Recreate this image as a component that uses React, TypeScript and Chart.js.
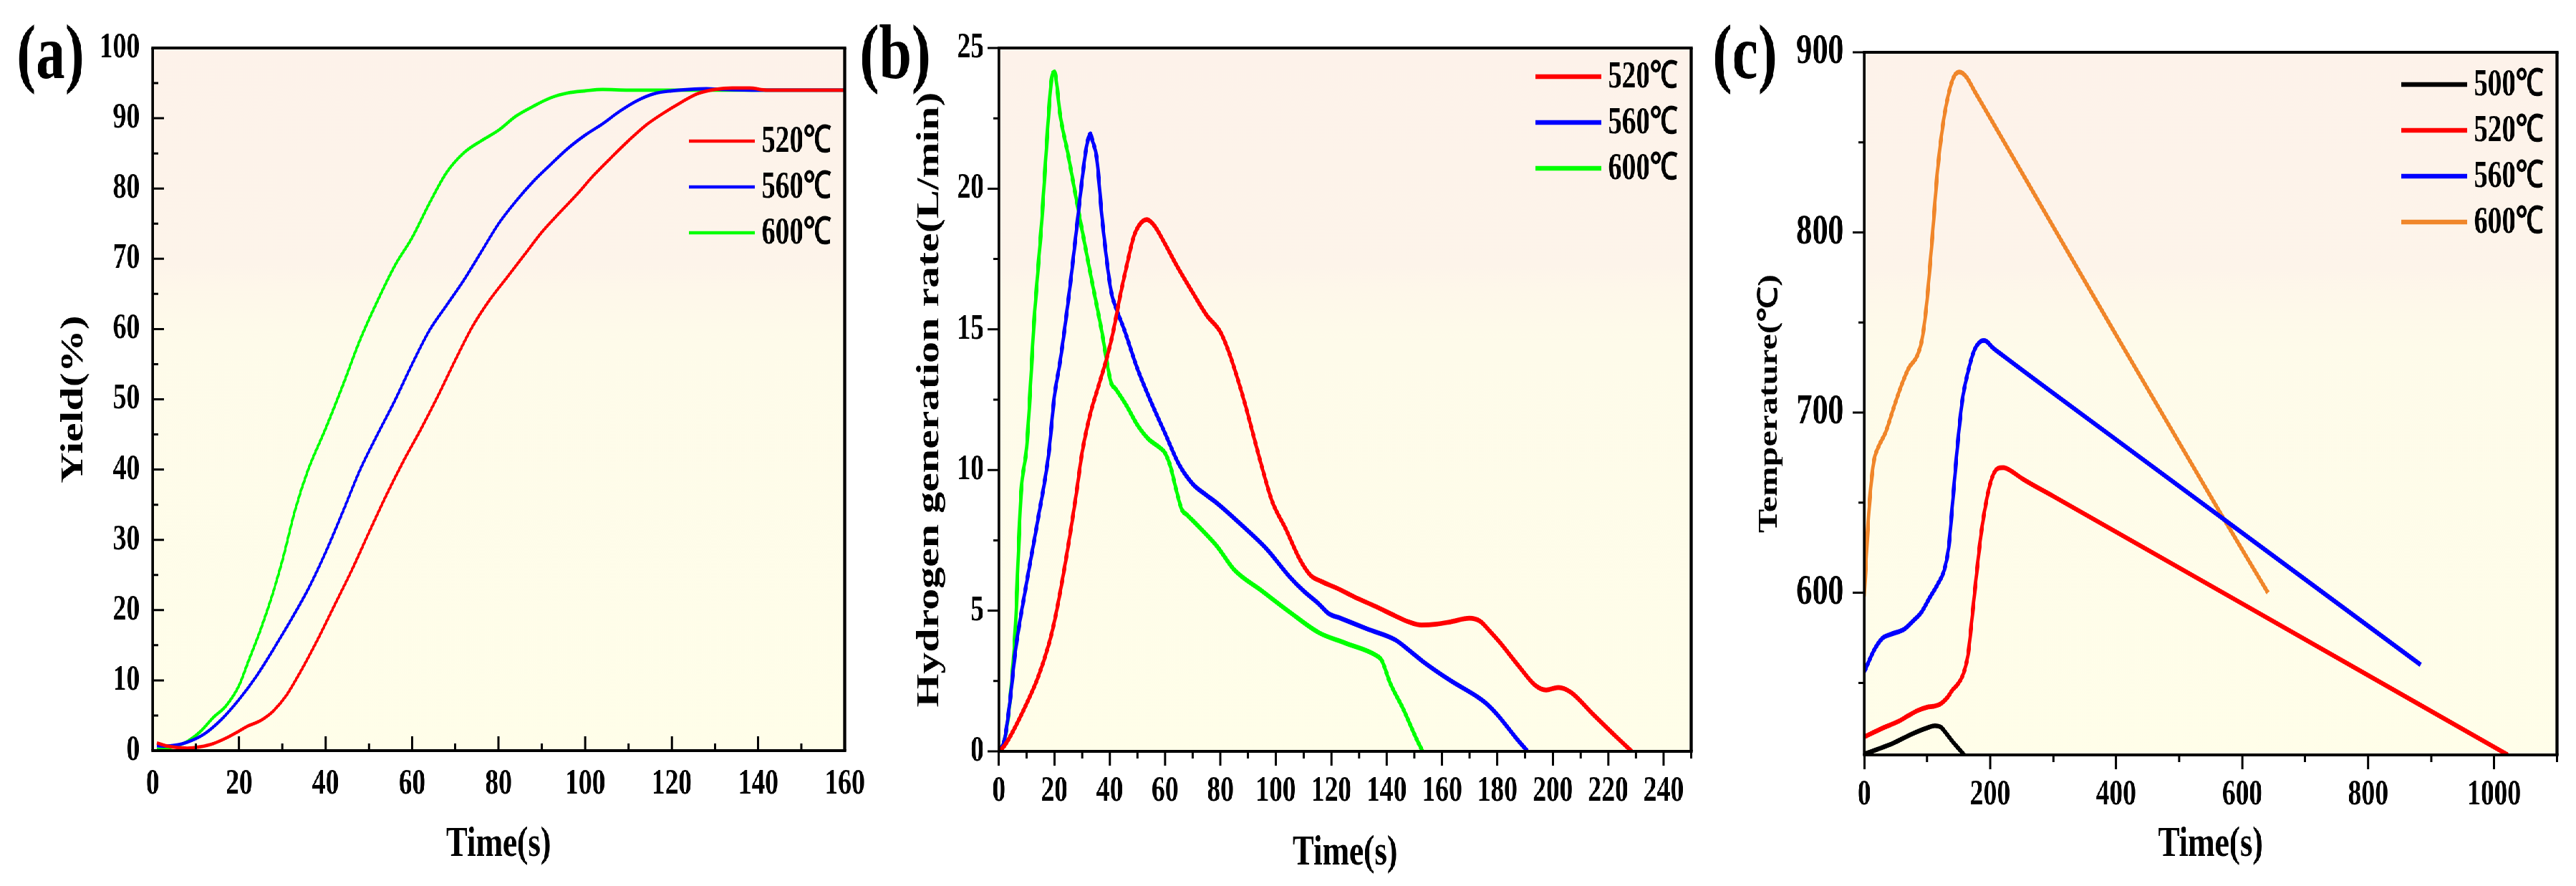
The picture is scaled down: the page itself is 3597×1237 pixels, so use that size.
import React, { useEffect, useRef } from 'react';
import { Chart, registerables } from 'chart.js';

Chart.register(...registerables);

// the original figure is squeezed horizontally, so everything is laid out
// wider and then scaled on x
const SX = 0.75;
const PAGE_W = 3597;
const PAGE_H = 1237;
const FONT = '"Liberation Serif", "Times New Roman", serif';

// ---- (a) yield ----
const yieldTime520 = [1, 3, 5, 8, 11, 14, 17, 20, 22, 25, 28, 31, 34, 38, 42, 46, 50, 54, 58, 62, 66, 70, 74, 78, 82, 86, 90, 94, 98, 102, 106, 110, 114, 118, 122, 126, 130, 134, 138, 142, 150, 160];
const yield520 = [1.1, 0.7, 0.5, 0.35, 0.55, 1.0, 1.8, 2.8, 3.5, 4.3, 5.7, 7.9, 11.0, 15.6, 20.6, 25.6, 31.0, 36.3, 41.2, 45.7, 50.5, 55.6, 60.4, 64.2, 67.4, 70.6, 73.8, 76.5, 79.1, 81.9, 84.4, 86.8, 89.0, 90.7, 92.2, 93.5, 94.1, 94.3, 94.3, 94.0, 94.0, 94.0];
const yieldTime560 = [1, 3, 5, 8, 12, 16, 20, 24, 28, 32, 36, 40, 44, 48, 52, 56, 60, 64, 68, 72, 76, 80, 84, 88, 92, 96, 100, 104, 108, 112, 116, 120, 124, 128, 132, 140, 160];
const yield560 = [0.7, 0.65, 0.75, 1.2, 2.4, 4.5, 7.3, 10.6, 14.5, 18.6, 23.0, 28.2, 34.0, 40.0, 45.0, 49.8, 55.0, 59.8, 63.4, 67.0, 71.0, 75.0, 78.2, 81.0, 83.4, 85.7, 87.6, 89.2, 91.0, 92.5, 93.5, 93.9, 94.1, 94.2, 94.1, 94.0, 94.0];
const yieldTime600 = [1, 4, 8, 11, 14, 17, 20, 22, 25, 28, 30, 33, 36, 40, 44, 48, 52, 56, 60, 64, 68, 72, 76, 80, 84, 88, 92, 96, 100, 104, 110, 160];
const yield600 = [0.2, 0.4, 1.3, 2.7, 4.7, 6.4, 9.3, 12.5, 17.3, 22.8, 27.0, 34.3, 40.0, 45.8, 52.0, 58.5, 64.0, 69.0, 73.0, 77.9, 82.3, 85.1, 86.8, 88.3, 90.3, 91.7, 92.9, 93.6, 93.9, 94.1, 94.0, 94.0];
const yieldXTicks = [0, 20, 40, 60, 80, 100, 120, 140, 160];
const yieldXMinor = [10, 30, 50, 70, 90, 110, 130, 150];
const yieldYTicks = [0, 10, 20, 30, 40, 50, 60, 70, 80, 90, 100];
const yieldYMinor = [5, 15, 25, 35, 45, 55, 65, 75, 85, 95];

// ---- (b) hydrogen generation rate ----
const rateTime520 = [0, 2, 5, 10, 14, 18, 20, 22, 25, 28, 30, 33, 36, 39, 41, 44, 46, 48.7, 51, 53.4, 56, 59.9, 64, 70, 75, 80, 83, 86, 89, 91.7, 94.7, 98.6, 103.6, 108.5, 112.5, 116.4, 122, 128.3, 136, 143.2, 148, 152.5, 158, 163, 169.9, 173.8, 177, 180.8, 187.7, 193.6, 197.6, 202, 206.5, 214.4, 223.3, 228.5];
const rate520 = [0, 0.2, 0.7, 1.7, 2.6, 3.8, 4.6, 5.6, 7.3, 9.2, 10.6, 12.0, 13.0, 14.0, 14.8, 16.3, 17.2, 18.3, 18.75, 18.9, 18.7, 18.05, 17.3, 16.3, 15.5, 14.9, 14.2, 13.3, 12.3, 11.3, 10.2, 8.9, 7.9, 6.85, 6.26, 6.04, 5.8, 5.49, 5.15, 4.81, 4.6, 4.49, 4.52, 4.6, 4.73, 4.62, 4.3, 3.88, 3.03, 2.35, 2.18, 2.27, 2.1, 1.33, 0.48, 0];
const rateTime560 = [0, 2, 4, 6, 10, 14, 18, 20, 22, 23.7, 26, 28.4, 30, 31.3, 32.3, 33, 33.8, 35.3, 37.3, 40.5, 42.5, 45.2, 50, 55, 60, 65, 70, 75, 79, 87, 96.7, 105, 110, 115.5, 119, 123.4, 133, 143.2, 148, 153, 163, 172.9, 176, 180, 186.7, 190.9];
const rate560 = [0, 0.4, 1.8, 3.6, 6.0, 8.2, 10.6, 12.6, 13.8, 15.0, 16.8, 18.9, 20.3, 21.3, 21.8, 21.95, 21.7, 21.1, 18.9, 16.35, 15.7, 15.0, 13.6, 12.4, 11.3, 10.2, 9.5, 9.1, 8.8, 8.1, 7.19, 6.2, 5.7, 5.24, 4.9, 4.73, 4.35, 3.96, 3.6, 3.2, 2.52, 1.93, 1.7, 1.3, 0.48, 0];
const rateTime600 = [0, 2, 4, 6, 7, 8, 10, 11, 12.5, 14, 15.5, 17.7, 19, 20.1, 21, 22, 25, 29.3, 33, 37, 40.5, 42, 46, 50, 54, 58, 60, 62, 64, 66, 68, 73, 78.9, 84.8, 95, 105, 115.5, 125, 136.2, 138.2, 141.2, 146, 150.6, 153];
const rate600 = [0, 0.4, 1.8, 4.5, 7.0, 9.2, 10.8, 12.3, 15.0, 17.0, 18.9, 22.3, 23.9, 24.15, 23.6, 22.7, 21.2, 18.9, 17.0, 15.0, 13.1, 12.9, 12.3, 11.6, 11.1, 10.8, 10.6, 10.1, 9.3, 8.6, 8.4, 7.9, 7.27, 6.47, 5.7, 4.95, 4.22, 3.85, 3.41, 3.24, 2.44, 1.5, 0.48, 0];
const rateXTicks = [0, 20, 40, 60, 80, 100, 120, 140, 160, 180, 200, 220, 240];
const rateXMinor = [10, 30, 50, 70, 90, 110, 130, 150, 170, 190, 210, 230, 250];
const rateYTicks = [0, 5, 10, 15, 20, 25];
const rateYMinor = [2.5, 7.5, 12.5, 17.5, 22.5];

// ---- (c) temperature ----
const tempTime500 = [0, 20, 46, 75, 100, 112, 122, 130, 140, 150, 160];
const temp500 = [510.5, 513, 516.5, 521.5, 525, 526.2, 525.3, 522, 517.5, 513.5, 509.5];
const tempTime520 = [0, 30, 53, 70, 84, 100, 110, 121, 133, 140, 148, 155, 160, 165, 170, 177, 186, 195, 203, 212, 221, 230, 251, 300, 600, 1022];
const temp520 = [520, 525, 528.4, 531.8, 534.5, 536.5, 537, 538.3, 542.3, 546, 549, 553, 558, 566, 582, 606, 634, 653, 664, 669, 669.5, 668.3, 663.3, 653.6, 594, 510];
const tempTime560 = [0, 16.5, 29.6, 42.6, 64.3, 77.4, 90.4, 103.5, 116.5, 127, 134, 141, 148, 155.6, 164.3, 174.8, 184.3, 190, 194.8, 203.5, 220.9, 400, 883.5];
const temp560 = [556, 568.7, 575, 577, 580, 584.3, 589, 597, 604.7, 612.5, 625, 653, 681.4, 706.5, 722, 734.7, 739.4, 740, 739.4, 736.2, 731.5, 685, 560];
const tempTime600 = [0, 7.8, 14.8, 22.6, 33.9, 47, 60, 71, 84, 92, 99, 108, 116.5, 125, 134, 142.6, 151, 161.7, 175, 203.5, 255.6, 395, 568.7, 641];
const temp600 = [598, 647, 672, 681, 689, 703, 716, 725, 731.5, 741, 760, 797, 835, 860, 877, 886.6, 889, 886.5, 878.5, 861.4, 830, 746, 642.3, 600];
const tempXTicks = [0, 200, 400, 600, 800, 1000];
const tempXMinor = [100, 300, 500, 700, 900, 1100];
const tempYTicks = [600, 700, 800, 900];
const tempYMinor = [550, 650, 750, 850];

interface Series {
  label: string;
  color: string;
  x: number[];
  y: number[];
}

interface PanelSpec {
  canvasLeft: number;
  canvasWidth: number;
  plot: { left: number; right: number; top: number; bottom: number };
  letter: string;
  letterX: number;
  xRange: [number, number];
  yRange: [number, number];
  xTicks: number[];
  xMinor: number[];
  yTicks: number[];
  yMinor: number[];
  inward: boolean;
  xTickFont: number;
  yTickFont: number;
  xPad: number;
  yPad: number;
  yTitle: string;
  yTitleX: number;
  yTitleSize: number;
  xTitleBaseline: number;
  legendTop: number;
  lineWidth: number;
  series: Series[];
}

const panels: PanelSpec[] = [
  {
    canvasLeft: 0,
    canvasWidth: 1660,
    plot: { left: 284, right: 1573, top: 67, bottom: 1048 },
    letter: '(a)',
    letterX: 31,
    xRange: [0, 160],
    yRange: [0, 100],
    xTicks: yieldXTicks,
    xMinor: yieldXMinor,
    yTicks: yieldYTicks,
    yMinor: yieldYMinor,
    inward: true,
    xTickFont: 50,
    yTickFont: 50,
    xPad: 17,
    yPad: 24,
    yTitle: 'Yield(%)',
    yTitleX: 137,
    yTitleSize: 60,
    xTitleBaseline: 1195,
    legendTop: 130,
    lineWidth: 4.6,
    series: [
      { label: '520℃', color: '#ff0000', x: yieldTime520, y: yield520 },
      { label: '560℃', color: '#0000ff', x: yieldTime560, y: yield560 },
      { label: '600℃', color: '#00ff00', x: yieldTime600, y: yield600 },
    ],
  },
  {
    canvasLeft: 1590,
    canvasWidth: 1620,
    plot: { left: 1860, right: 3149, top: 67, bottom: 1049 },
    letter: '(b)',
    letterX: 1601,
    xRange: [0, 250],
    yRange: [0, 25],
    xTicks: rateXTicks,
    xMinor: rateXMinor,
    yTicks: rateYTicks,
    yMinor: rateYMinor,
    inward: false,
    xTickFont: 50,
    yTickFont: 50,
    xPad: 26,
    yPad: 28,
    yTitle: 'Hydrogen generation rate(L/min)',
    yTitleX: 1731,
    yTitleSize: 60,
    xTitleBaseline: 1207,
    legendTop: 40,
    lineWidth: 6.7,
    series: [
      { label: '520℃', color: '#ff0000', x: rateTime520, y: rate520 },
      { label: '560℃', color: '#0000ff', x: rateTime560, y: rate560 },
      { label: '600℃', color: '#00ff00', x: rateTime600, y: rate600 },
    ],
  },
  {
    canvasLeft: 3180,
    canvasWidth: 1616,
    plot: { left: 3471, right: 4761, top: 73, bottom: 1054 },
    letter: '(c)',
    letterX: 3189,
    xRange: [0, 1100],
    yRange: [510, 900],
    xTicks: tempXTicks,
    xMinor: tempXMinor,
    yTicks: tempYTicks,
    yMinor: tempYMinor,
    inward: false,
    xTickFont: 50,
    yTickFont: 59,
    xPad: 26,
    yPad: 38,
    yTitle: 'Temperature(℃)',
    yTitleX: 3295,
    yTitleSize: 50,
    xTitleBaseline: 1195,
    legendTop: 45,
    lineWidth: 6.7,
    series: [
      { label: '500℃', color: '#000000', x: tempTime500, y: temp500 },
      { label: '520℃', color: '#ff0000', x: tempTime520, y: temp520 },
      { label: '560℃', color: '#0000ff', x: tempTime560, y: temp560 },
      { label: '600℃', color: '#f0862a', x: tempTime600, y: temp600 },
    ],
  },
];

// background, box, inward/outward ticks, legend, titles
function makeFrame(spec: PanelSpec) {
  return {
    id: 'frame',
    beforeDraw(chart: Chart) {
      const { ctx, chartArea: a } = chart;
      const g = ctx.createLinearGradient(0, a.top, 0, a.bottom);
      g.addColorStop(0, '#fdf2ea');
      g.addColorStop(0.31, '#fdf4ea');
      g.addColorStop(0.34, '#fef7ea');
      g.addColorStop(0.42, '#fefbea');
      g.addColorStop(1, '#fffee9');
      ctx.save();
      ctx.fillStyle = g;
      ctx.fillRect(a.left, a.top, a.width, a.height);
      ctx.restore();
    },
    afterDatasetsDraw(chart: Chart) {
      const { ctx, chartArea: a } = chart;
      const xs = chart.scales.x;
      const ys = chart.scales.y;
      const hw = 4;
      const vw = 4 / SX;
      const dir = spec.inward ? 1 : -1;
      ctx.save();
      ctx.strokeStyle = '#000';
      ctx.lineCap = 'butt';

      // box
      ctx.lineWidth = hw;
      ctx.beginPath();
      ctx.moveTo(a.left - vw / 2, a.top);
      ctx.lineTo(a.right + vw / 2, a.top);
      ctx.moveTo(a.left - vw / 2, a.bottom);
      ctx.lineTo(a.right + vw / 2, a.bottom);
      ctx.stroke();
      ctx.lineWidth = vw;
      ctx.beginPath();
      ctx.moveTo(a.left, a.top);
      ctx.lineTo(a.left, a.bottom);
      ctx.moveTo(a.right, a.top);
      ctx.lineTo(a.right, a.bottom);
      ctx.stroke();

      // x ticks (vertical marks)
      ctx.lineWidth = 3 / SX;
      ctx.beginPath();
      const xMark = (v: number, len: number) => {
        const px = xs.getPixelForValue(v);
        ctx.moveTo(px, a.bottom);
        ctx.lineTo(px, a.bottom - dir * len);
      };
      spec.xTicks.forEach((v) => xMark(v, 20));
      spec.xMinor.forEach((v) => xMark(v, 10));
      ctx.stroke();

      // y ticks (horizontal marks)
      ctx.lineWidth = 3;
      ctx.beginPath();
      const yMark = (v: number, len: number) => {
        const py = ys.getPixelForValue(v);
        ctx.moveTo(a.left, py);
        ctx.lineTo(a.left + dir * len, py);
      };
      spec.yTicks.forEach((v) => yMark(v, 21));
      spec.yMinor.forEach((v) => yMark(v, 11));
      ctx.stroke();

      // legend
      ctx.fillStyle = '#000';
      ctx.font = `bold 52px ${FONT}`;
      ctx.textAlign = 'left';
      ctx.textBaseline = 'middle';
      spec.series.forEach((s, i) => {
        const y = a.top + spec.legendTop + i * 64;
        ctx.strokeStyle = s.color;
        ctx.lineWidth = spec.lineWidth;
        ctx.beginPath();
        ctx.moveTo(a.right - 290, y);
        ctx.lineTo(a.right - 167, y);
        ctx.stroke();
        ctx.fillText(s.label, a.right - 155, y + 2);
      });

      // x title
      ctx.font = `bold 60px ${FONT}`;
      ctx.textAlign = 'center';
      ctx.textBaseline = 'alphabetic';
      ctx.fillText('Time(s)', (a.left + a.right) / 2, spec.xTitleBaseline);

      // y title
      ctx.save();
      ctx.translate(spec.yTitleX - spec.canvasLeft, (a.top + a.bottom) / 2);
      ctx.rotate(-Math.PI / 2);
      ctx.font = `bold ${spec.yTitleSize}px ${FONT}`;
      ctx.textBaseline = 'middle';
      ctx.fillText(spec.yTitle, 0, 0);
      ctx.restore();

      // panel letter
      ctx.font = `bold 108px ${FONT}`;
      ctx.textAlign = 'left';
      ctx.textBaseline = 'alphabetic';
      ctx.fillText(spec.letter, spec.letterX - spec.canvasLeft, 109);
      ctx.restore();
    },
  };
}

const Panel: React.FC<{ spec: PanelSpec }> = ({ spec }) => {
  const canvasRef = useRef<HTMLCanvasElement | null>(null);

  useEffect(() => {
    if (!canvasRef.current) return;
    const { plot, canvasLeft, canvasWidth } = spec;

    const chart = new Chart(canvasRef.current, {
      type: 'line',
      data: {
        datasets: spec.series.map((s) => ({
          label: s.label,
          data: s.x.map((x, i) => ({ x, y: s.y[i] })),
          borderColor: s.color,
          backgroundColor: s.color,
          borderWidth: spec.lineWidth,
          pointRadius: 0,
          fill: false,
          cubicInterpolationMode: 'monotone' as const,
          clip: 0,
        })),
      },
      options: {
        responsive: false,
        animation: false,
        devicePixelRatio: 1,
        layout: {
          padding: { left: 0, top: plot.top, right: canvasLeft + canvasWidth - plot.right, bottom: 0 },
        },
        plugins: {
          legend: { display: false },
          tooltip: { enabled: false },
          title: { display: false },
        },
        scales: {
          x: {
            type: 'linear',
            min: spec.xRange[0],
            max: spec.xRange[1],
            grid: { display: false, drawTicks: false },
            border: { display: false },
            ticks: {
              color: '#000',
              font: { family: FONT, size: spec.xTickFont, weight: 'bold' },
              padding: spec.xPad,
              maxRotation: 0,
              autoSkip: false,
              callback: (v) => String(v),
            },
            afterBuildTicks: (s) => {
              s.ticks = spec.xTicks.map((value) => ({ value }));
            },
            afterFit: (s) => {
              s.height = PAGE_H - plot.bottom;
              s.paddingLeft = 0;
              s.paddingRight = 0;
            },
          },
          y: {
            type: 'linear',
            min: spec.yRange[0],
            max: spec.yRange[1],
            grid: { display: false, drawTicks: false },
            border: { display: false },
            ticks: {
              color: '#000',
              font: { family: FONT, size: spec.yTickFont, weight: 'bold' },
              padding: spec.yPad,
              autoSkip: false,
              callback: (v) => String(v),
            },
            afterBuildTicks: (s) => {
              s.ticks = spec.yTicks.map((value) => ({ value }));
            },
            afterFit: (s) => {
              s.width = plot.left - canvasLeft;
              s.paddingTop = 0;
              s.paddingBottom = 0;
            },
          },
        },
      },
      plugins: [makeFrame(spec)],
    });

    return () => {
      chart.destroy();
    };
  }, [spec]);

  return (
    <div
      style={{
        position: 'absolute',
        left: spec.canvasLeft,
        top: 0,
        width: spec.canvasWidth,
        height: PAGE_H,
      }}
    >
      <canvas
        ref={canvasRef}
        width={spec.canvasWidth}
        height={PAGE_H}
        style={{ width: spec.canvasWidth, height: PAGE_H, display: 'block' }}
      />
    </div>
  );
};

export default function App() {
  return (
    <div
      style={{
        position: 'fixed',
        left: 0,
        top: 0,
        width: PAGE_W,
        height: PAGE_H,
        overflow: 'hidden',
        background: '#fff',
      }}
    >
      <div
        style={{
          position: 'absolute',
          left: 0,
          top: 0,
          width: PAGE_W / SX,
          height: PAGE_H,
          transform: `scaleX(${SX})`,
          transformOrigin: '0 0',
        }}
      >
        {panels.map((p) => (
          <Panel key={p.letter} spec={p} />
        ))}
      </div>
    </div>
  );
}
